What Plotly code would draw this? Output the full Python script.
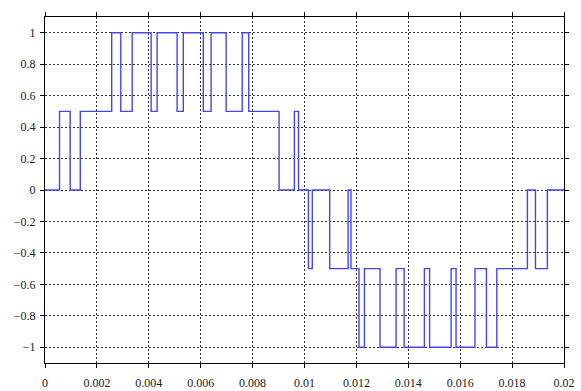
import plotly.graph_objects as go

# Switching instants of the multilevel output (seconds) and the level held after each one
switch_times = [0.0, 0.00056, 0.00097, 0.00136, 0.00257, 0.00292, 0.00336, 0.00409, 0.00432,
                0.00509, 0.00533, 0.00610, 0.00640, 0.00698, 0.00760, 0.00785, 0.00902,
                0.00961, 0.00977, 0.01015, 0.01030, 0.01097, 0.01168, 0.01179, 0.01210,
                0.01231, 0.01291, 0.01353, 0.01384, 0.01462, 0.01482, 0.01565, 0.01584,
                0.01657, 0.01701, 0.01741, 0.01859, 0.01890, 0.01936, 0.02]
levels = [0, 0.5, 0, 0.5, 1, 0.5, 1, 0.5, 1,
          0.5, 1, 0.5, 1, 0.5, 1, 0.5, 0,
          0.5, 0, -0.5, 0, -0.5, 0, -0.5, -1,
          -0.5, -1, -0.5, -1, -0.5, -1, -0.5, -1,
          -0.5, -1, -0.5, 0, -0.5, 0, 0]

x_ticks = [0, 0.002, 0.004, 0.006, 0.008, 0.01, 0.012, 0.014, 0.016, 0.018, 0.02]
x_tick_labels = ["0", "0.002", "0.004", "0.006", "0.008", "0.01", "0.012", "0.014", "0.016", "0.018", "0.02"]
y_ticks = [1, 0.8, 0.6, 0.4, 0.2, 0, -0.2, -0.4, -0.6, -0.8, -1]
y_tick_labels = ["1", "0.8", "0.6", "0.4", "0.2", "0", "\u22120.2", "\u22120.4", "\u22120.6", "\u22120.8", "\u22121"]

fig = go.Figure()
fig.add_trace(go.Scatter(
    x=switch_times, y=levels, mode="lines", line_shape="hv",
    line=dict(color="rgb(70,70,235)", width=1.4), showlegend=False,
))

axis_common = dict(
    showline=True, linecolor="black", linewidth=1.3, mirror="ticks",
    ticks="outside", ticklen=4, tickcolor="black", tickwidth=1,
    showgrid=True, gridcolor="rgba(0,0,0,0.8)", gridwidth=1.2, griddash="2px,2px",
    zeroline=False, automargin=False,
    tickfont=dict(family="Liberation Serif", size=12, color="#222"),
)

fig.update_xaxes(range=[0, 0.02], tickvals=x_ticks, ticktext=x_tick_labels,
                 ticklabelstandoff=4, **axis_common)
fig.update_yaxes(range=[-1.1, 1.1], tickvals=y_ticks, ticktext=y_tick_labels,
                 ticklabelstandoff=2, **axis_common)

fig.update_layout(
    width=581, height=391,
    margin=dict(l=45, r=17, t=17, b=28),
    plot_bgcolor="white", paper_bgcolor="white",
)

fig.write_html("out.html")
